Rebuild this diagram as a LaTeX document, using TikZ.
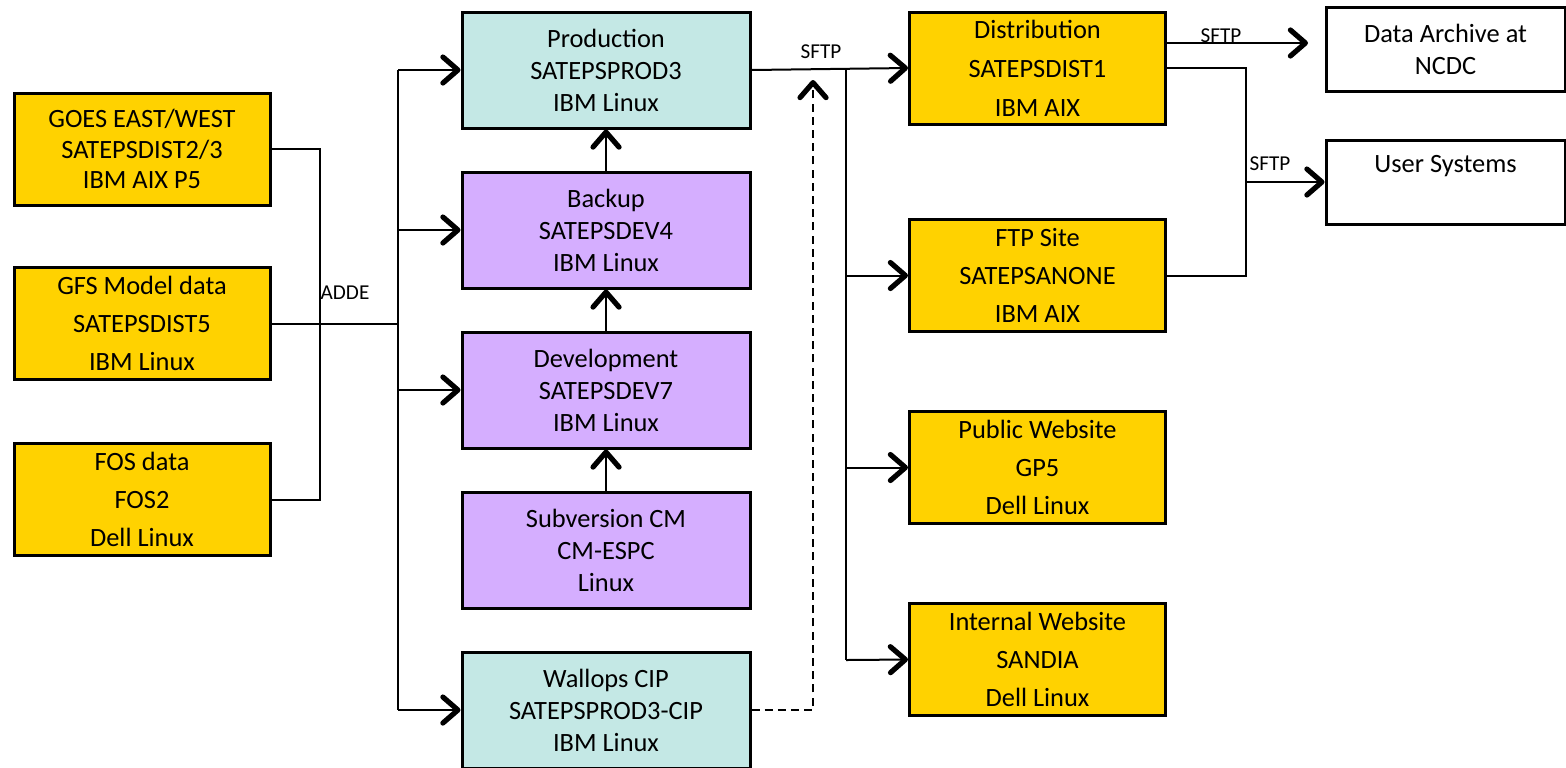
\documentclass[tikz,border=0pt]{standalone}
\usepackage{fontspec}
\setmainfont{Carlito}
\usetikzlibrary{arrows.meta}
\definecolor{gold}{HTML}{FFD200}
\definecolor{cyanbox}{HTML}{C4E8E5}
\definecolor{lav}{HTML}{D5AEFF}
\tikzset{
  box/.style={draw=black, line width=1.5pt, inner sep=0pt, align=center, font=\fontsize{13.2}{16}\selectfont},
  ybox/.style={box, fill=gold, minimum width=128pt, minimum height=56pt, font=\fontsize{13.2}{19}\selectfont},
  ybox2/.style={ybox, font=\fontsize{13.2}{15.2}\selectfont},
  cbox/.style={box, fill=cyanbox, minimum width=144pt, minimum height=58pt},
  pbox/.style={box, fill=lav, minimum width=144pt, minimum height=58pt},
  wbox/.style={box, fill=white, minimum width=119.5pt, minimum height=42pt},
  conn/.style={line width=1pt},
  arr/.style={conn, -{Straight Barb[length=7.5pt, width=13pt, line width=2.6pt, line cap=round, line join=round]}},
  lbl/.style={font=\fontsize{10.6}{12}\selectfont, inner sep=0pt}
}
\begin{document}
\begin{tikzpicture}[x=0.5pt,y=-0.5pt]
\useasboundingbox (0,0) rectangle (1566,767);
\begin{scope}
\clip (0,0) rectangle (1566,767);
% left sources
\node[ybox2] (goes) at (142,149) {GOES EAST/WEST\\SATEPSDIST2/3\\IBM AIX P5};
\node[ybox] (gfs) at (142,323.5) {GFS Model data\\SATEPSDIST5\\IBM Linux};
\node[ybox] (fos) at (142,499.5) {FOS data\\FOS2\\Dell Linux};
% middle column
\node[cbox] (prod) at (606,70) {Production\\SATEPSPROD3\\IBM Linux};
\node[pbox] (backup) at (606,230) {Backup\\SATEPSDEV4\\IBM Linux};
\node[pbox] (dev) at (606,390) {Development\\SATEPSDEV7\\IBM Linux};
\node[pbox] (svn) at (606,550) {Subversion CM\\CM-ESPC\\Linux};
\node[cbox] (wal) at (606,710) {Wallops CIP\\SATEPSPROD3-CIP\\IBM Linux};
% right column
\node[ybox, font=\fontsize{13.2}{19.5}\selectfont] (dist) at (1037.5,68) {Distribution\\SATEPSDIST1\\IBM AIX};
\node[ybox] (ftp) at (1037.5,275.5) {FTP Site\\SATEPSANONE\\IBM AIX};
\node[ybox] (pub) at (1037.5,467.5) {Public Website\\GP5\\Dell Linux};
\node[ybox] (int) at (1037.5,659.5) {Internal Website\\SANDIA\\Dell Linux};
% far right
\node[wbox] (arch) at (1445.5,49) {Data Archive at\\NCDC};
\node[wbox, font=\fontsize{13.2}{14}\selectfont] (users) at (1445.5,182) {User Systems\\\strut};
\end{scope}
% left connectors
\draw[conn] (goes.east) -- ++(48,0) |- (fos.east);
\coordinate (bt) at (398,70);
\coordinate (bb) at (398,710);
\draw[conn] (gfs.east) -- (gfs.east -| bt);
\draw[conn] (bt) -- (bb);
\node[lbl] (adde) at (345,293) {ADDE};
\draw[arr] (bt) -- (prod.west);
\draw[arr] (backup.west -| bt) -- (backup.west);
\draw[arr] (dev.west -| bt) -- (dev.west);
\draw[arr] (bb) -- (wal.west);
% vertical chain
\draw[arr] (backup.north) -- (prod.south);
\draw[arr] (dev.north) -- (backup.south);
\draw[arr] (svn.north) -- (dev.south);
% production to distribution
\draw[arr] (prod.east) -- (dist.west);
\node[lbl] (sftp1) at (821,52) {SFTP};
\coordinate (rt) at (846,69);
\coordinate (rb) at (846,660);
\draw[conn] (rt) -- (rb);
\draw[arr] (ftp.west -| rt) -- (ftp.west);
\draw[arr] (pub.west -| rt) -- (pub.west);
\draw[arr] (rb) -- (int.west);
% dashed from Wallops
\coordinate (dtop) at (813,80);
\draw[arr, dash pattern=on 4pt off 2.6pt] (wal.east) -| (dtop);
% distribution onwards
\coordinate (ds) at (1166,43);
\coordinate (ae) at (1308,43);
\draw[arr] (ds) -- (ae);
\node[lbl] (sftp2) at (1221,36) {SFTP};
\coordinate (jn) at (1246,68);
\draw[conn] (dist.east |- jn) -- (jn) |- (ftp.east);
\draw[arr] (users.west -| jn) -- (users.west);
\node[lbl] (sftp3) at (1270,164) {SFTP};
\end{tikzpicture}
\end{document}
